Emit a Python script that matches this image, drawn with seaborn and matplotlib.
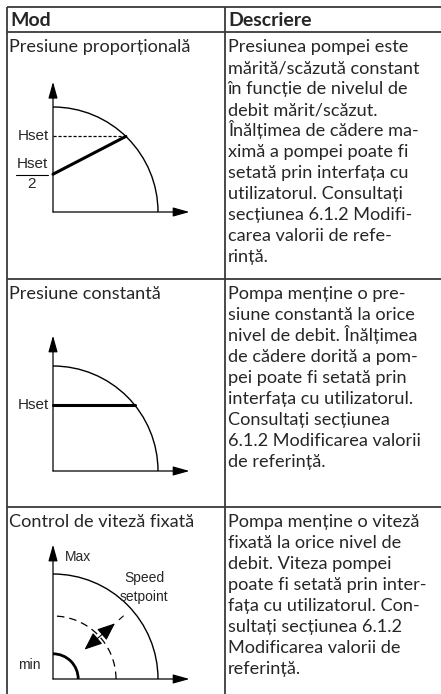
import numpy as np
import matplotlib.pyplot as plt
from matplotlib.patches import Arc
import seaborn as sns

# Table text
headers = ["Mod", "Descriere"]
modes = ["Presiune proporțională", "Presiune constantă", "Control de viteză fixată"]
desc_prop = ["Presiunea pompei este", "mărită/scăzută constant", "în funcție de nivelul de",
             "debit mărit/scăzut.", "Înălțimea de cădere ma-", "ximă a pompei poate fi",
             "setată prin interfața cu", "utilizatorul. Consultați", "secțiunea 6.1.2 Modifi-",
             "carea valorii de refe-", "rință."]
desc_const = ["Pompa menține o pre-", "siune constantă la orice", "nivel de debit. Înălțimea",
              "de cădere dorită a pom-", "pei poate fi setată prin", "interfața cu utilizatorul.",
              "Consultați secțiunea", "6.1.2 Modificarea valorii", "de referință."]
desc_speed = ["Pompa menține o viteză", "fixată la orice nivel de", "debit. Viteza pompei",
              "poate fi setată prin inter-", "fața cu utilizatorul. Con-", "sultați secțiunea 6.1.2",
              "Modificarea valorii de", "referință."]
descriptions = [desc_prop, desc_const, desc_speed]

# Diagram values, head and flow as a share of the max pump curve
hset_prop = 0.72
hset_const = 0.63
speed_setpoint = 0.60
speed_min = 0.24

# layout in pixels
W, H = 441, 694
row_lines = [7, 32, 279, 507]
col_x = [7, 225]
origin_x = 53
origins_y = [212, 471, 679]
R = 105
line_step = 21
line_col = "#3a3a3a"

sns.set_theme(style="white")
plt.rcParams['font.family'] = ['Lato', 'DejaVu Sans']
fs = 13.1
head_fs = 14
label_font = ['Liberation Sans', 'DejaVu Sans']
label_fs = 11
small_fs = 10

fig = plt.figure(figsize=(W / 100, H / 100), dpi=100)
bg = fig.add_axes([0, 0, 1, 1])
bg.set_xlim(0, W)
bg.set_ylim(H, 0)
bg.axis('off')

# table grid
bg.hlines(row_lines, col_x[0], W + 5, color=line_col, lw=1.3)
bg.vlines(col_x, row_lines[0], H + 5, color=line_col, lw=1.3)

# header + cells
bg.text(col_x[0] + 3, row_lines[0] + 19, headers[0], fontsize=head_fs, fontweight='bold', va='baseline')
bg.text(col_x[1] + 3, row_lines[0] + 19, headers[1], fontsize=head_fs, fontweight='bold', va='baseline')
for i, (mode, desc) in enumerate(zip(modes, descriptions)):
    base = row_lines[i + 1] + 20
    bg.text(col_x[0] + 2, base, mode, fontsize=fs, va='baseline')
    for j, line in enumerate(desc):
        bg.text(col_x[1] + 3, base + j * line_step, line, fontsize=fs, va='baseline')


def diagram_ax(oy, top=1.27):
    x0, x1, y0, y1 = -0.45, 1.4, -0.2, 1.4
    ax = fig.add_axes([(origin_x + x0 * R) / W, 1 - (oy - y0 * R) / H,
                       (x1 - x0) * R / W, (y1 - y0) * R / H])
    ax.set_xlim(x0, x1)
    ax.set_ylim(y0, y1)
    ax.axis('off')
    arrow_kw = dict(arrowstyle="-|>,head_length=1.0,head_width=0.28", color="black",
                    lw=0.9, shrinkA=0, shrinkB=0, mutation_scale=10)
    ax.annotate("", xy=(0, top), xytext=(0, 0), arrowprops=arrow_kw)
    ax.annotate("", xy=(1.30, 0), xytext=(0, 0), arrowprops=arrow_kw)
    ax.add_patch(Arc((0, 0), 2, 2, theta1=0, theta2=90, lw=1.0, color="black"))
    return ax


# proportional pressure
ax1 = diagram_ax(origins_y[0], top=1.24)
q1 = np.sqrt(1 - hset_prop ** 2)
sns.lineplot(x=[0, q1], y=[hset_prop, hset_prop], ax=ax1, color="black", lw=0.9,
             linestyle=(0, (2.5, 1.5)))
sns.lineplot(x=[0, q1], y=[hset_prop / 2, hset_prop], ax=ax1, color="black", lw=2.2)
ax1.text(-0.04, hset_prop, "Hset", ha='right', va='center', fontsize=label_fs, family=label_font)
ax1.text(-0.2, hset_prop / 2 + 0.1, "Hset", ha='center', va='center', fontsize=label_fs, family=label_font)
ax1.plot([-0.35, -0.05], [hset_prop / 2 - 0.01] * 2, color="black", lw=0.8)
ax1.text(-0.2, hset_prop / 2 - 0.09, "2", ha='center', va='center', fontsize=label_fs, family=label_font)

# constant pressure
ax2 = diagram_ax(origins_y[1], top=1.29)
q2 = np.sqrt(1 - hset_const ** 2)
sns.lineplot(x=[0, q2], y=[hset_const, hset_const], ax=ax2, color="black", lw=2.2)
ax2.text(-0.04, hset_const, "Hset", ha='right', va='center', fontsize=label_fs, family=label_font)

# fixed speed
ax3 = diagram_ax(origins_y[2], top=1.28)
ax3.add_patch(Arc((0, 0), 2 * speed_setpoint, 2 * speed_setpoint, theta1=0, theta2=90,
                  lw=0.9, color="black", linestyle=(0, (6, 4))))
ax3.add_patch(Arc((0, 0), 2 * speed_min, 2 * speed_min, theta1=0, theta2=90,
                  lw=2.0, color="black"))
ax3.annotate("", xy=(0.59, 0.53), xytext=(0.30, 0.28),
             arrowprops=dict(arrowstyle="<|-|>,head_length=1.1,head_width=0.45", color="black",
                             lw=0.8, shrinkA=0, shrinkB=0, mutation_scale=10))
ax3.plot([0.63, 0.67], [0.565, 0.6], color="black", lw=0.8)
ax3.text(0.11, 1.16, "Max", ha='left', va='center', fontsize=small_fs, family=label_font)
ax3.text(0.87, 0.96, "Speed", ha='center', va='center', fontsize=small_fs, family=label_font)
ax3.text(0.87, 0.78, "setpoint", ha='center', va='center', fontsize=small_fs, family=label_font)
ax3.text(-0.12, 0.13, "min", ha='right', va='center', fontsize=small_fs, family=label_font)

fig.savefig("out.png", dpi=100)
